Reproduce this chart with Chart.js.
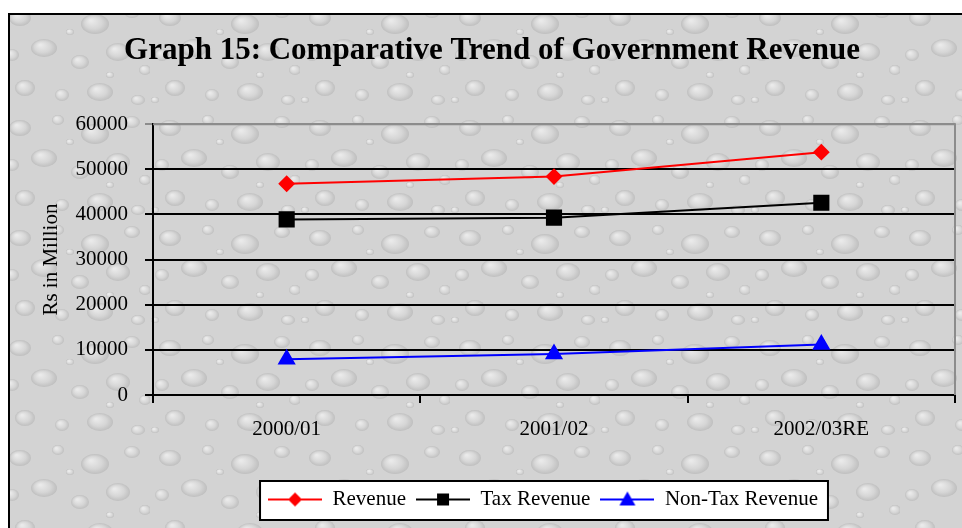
<!DOCTYPE html>
<html>
<head>
<meta charset="utf-8">
<script src="https://cdn.jsdelivr.net/npm/chart.js@4.4.1/dist/chart.umd.min.js"></script>
<style>
  html, body { margin: 0; padding: 0; background: #fff; }
  #wrap { width: 962px; height: 528px; position: relative; }
</style>
</head>
<body>
<div id="wrap"><canvas id="revenueChart"></canvas></div>
<script>
let years = ['2000/01', '2001/02', '2002/03RE'];
let revenue = [46800, 48400, 53800];
let taxRevenue = [38900, 39300, 42600];
let nonTaxRevenue = [7900, 9100, 11200];
let yTicks = [0, 10000, 20000, 30000, 40000, 50000, 60000];

let serif = '"Liberation Serif", "Times New Roman", serif';

// water-drop texture tile for the chart background
function makeTexture() {
    let tile = document.createElement('canvas');
    tile.width = 150;
    tile.height = 110;
    let c = tile.getContext('2d');
    c.fillStyle = '#d3d3d3';
    c.fillRect(0, 0, 150, 110);
    let drops = [
        [20, 18, 11, 8], [58, 10, 6, 5], [95, 24, 14, 10], [132, 12, 8, 6],
        [12, 55, 7, 6], [44, 48, 13, 9], [80, 62, 9, 7], [118, 52, 12, 9],
        [145, 70, 6, 5], [25, 88, 10, 8], [62, 95, 7, 6], [100, 92, 13, 9],
        [138, 100, 7, 5], [70, 32, 4, 3], [5, 100, 4, 3], [110, 75, 4, 3]
    ];
    drops.forEach(([x, y, rx, ry]) => {
        c.save();
        c.translate(x, y);
        c.scale(1, ry / rx);
        let g = c.createRadialGradient(-rx * 0.3, -rx * 0.35, 1, 0, 0, rx);
        g.addColorStop(0, '#eaeaea');
        g.addColorStop(0.6, '#d6d6d6');
        g.addColorStop(1, '#bfbfbf');
        c.fillStyle = g;
        c.beginPath();
        c.arc(0, 0, rx, 0, Math.PI * 2);
        c.fill();
        c.restore();
    });
    return tile;
}

// legend swatch: short line with the marker in the middle
function makeSwatch(color, style) {
    let cv = document.createElement('canvas');
    cv.width = 54;
    cv.height = 18;
    let c = cv.getContext('2d');
    c.strokeStyle = color;
    c.lineWidth = 2;
    c.beginPath();
    c.moveTo(0, 9);
    c.lineTo(54, 9);
    c.stroke();
    c.fillStyle = color;
    c.beginPath();
    if (style === 'diamond') {
        c.moveTo(27, 2); c.lineTo(34, 9); c.lineTo(27, 16); c.lineTo(20, 9);
    } else if (style === 'square') {
        c.rect(21, 3, 12, 12);
    } else {
        c.moveTo(27, 1); c.lineTo(35, 15); c.lineTo(19, 15);
    }
    c.closePath();
    c.fill();
    return cv;
}

let swatches = [
    makeSwatch('#ff0000', 'diamond'),
    makeSwatch('#000000', 'square'),
    makeSwatch('#0000ff', 'triangle')
];

let texture = makeTexture();

let backdrop = {
    id: 'backdrop',
    afterLayout(chart) {
        // legend sits right of centre
        chart.legend.left += 51;
        chart.legend.right += 51;
    },
    beforeDraw(chart) {
        let ctx = chart.ctx;
        ctx.save();
        ctx.fillStyle = ctx.createPattern(texture, 'repeat');
        ctx.fillRect(9, 14, chart.width - 9, chart.height - 14);
        ctx.strokeStyle = '#000';
        ctx.lineWidth = 2;
        ctx.beginPath();
        ctx.moveTo(9, chart.height);
        ctx.lineTo(9, 14);
        ctx.lineTo(chart.width, 14);
        ctx.stroke();

        // white boxed legend
        let boxes = chart.legend.legendHitBoxes;
        if (boxes && boxes.length) {
            let left = Math.min(...boxes.map(b => b.left)) - 8;
            let right = Math.max(...boxes.map(b => b.left + b.width)) + 10;
            let top = chart.legend.top + 2;
            let bottom = chart.legend.bottom;
            ctx.fillStyle = '#fff';
            ctx.fillRect(left, top, right - left, bottom - top);
            ctx.strokeStyle = '#000';
            ctx.lineWidth = 2;
            ctx.strokeRect(left, top, right - left, bottom - top);
        }
        ctx.restore();
    },
    beforeDatasetsDraw(chart) {
        let a = chart.chartArea;
        let ctx = chart.ctx;
        ctx.save();
        ctx.strokeStyle = '#8c8c8c';
        ctx.lineWidth = 2;
        ctx.beginPath();
        ctx.moveTo(a.left, a.top);
        ctx.lineTo(a.right, a.top);
        ctx.lineTo(a.right, a.bottom);
        ctx.stroke();
        ctx.restore();
    }
};

new Chart(document.getElementById('revenueChart'), {
    type: 'line',
    plugins: [backdrop],
    data: {
        labels: years,
        datasets: [
            {
                label: 'Revenue',
                data: revenue,
                borderColor: '#ff0000',
                backgroundColor: '#ff0000',
                borderWidth: 2,
                pointStyle: 'rectRot',
                pointRadius: 7,
                pointHoverRadius: 7
            },
            {
                label: 'Tax Revenue',
                data: taxRevenue,
                borderColor: '#000000',
                backgroundColor: '#000000',
                borderWidth: 2,
                pointStyle: 'rect',
                pointRadius: 10,
                pointHoverRadius: 10
            },
            {
                label: 'Non-Tax Revenue',
                data: nonTaxRevenue,
                borderColor: '#0000ff',
                backgroundColor: '#0000ff',
                borderWidth: 2,
                pointStyle: 'triangle',
                pointRadius: 8.5,
                pointHoverRadius: 8.5
            }
        ]
    },
    options: {
        responsive: true,
        maintainAspectRatio: false,
        animation: false,
        layout: { autoPadding: false, padding: { left: 29, right: 7, top: 0, bottom: 8 } },
        plugins: {
            tooltip: { enabled: false },
            title: {
                display: true,
                text: 'Graph 15: Comparative Trend of Government Revenue',
                color: '#000',
                font: { family: serif, size: 31, weight: 'bold' },
                padding: { top: 32, bottom: 55 }
            },
            legend: {
                position: 'bottom',
                labels: {
                    color: '#000',
                    font: { family: serif, size: 21 },
                    usePointStyle: true,
                    pointStyleWidth: 54,
                    padding: 10,
                    generateLabels(chart) {
                        let items = Chart.defaults.plugins.legend.labels.generateLabels(chart);
                        items.forEach((it, i) => { it.pointStyle = swatches[i]; });
                        return items;
                    }
                }
            }
        },
        scales: {
            x: {
                offset: true,
                afterFit(scale) {
                    scale.height = 84;
                    scale.paddingLeft = 0;
                    scale.paddingRight = 0;
                },
                grid: {
                    offset: true,
                    drawOnChartArea: false,
                    drawTicks: true,
                    tickLength: 8,
                    color: '#000',
                    lineWidth: 2
                },
                border: { color: '#000', width: 2 },
                ticks: {
                    color: '#000',
                    padding: 14,
                    maxRotation: 0,
                    font: { family: serif, size: 21 }
                }
            },
            y: {
                min: 0,
                max: 60000,
                afterFit(scale) { scale.width = 124; },
                afterBuildTicks(scale) { scale.ticks = yTicks.map(v => ({ value: v })); },
                grid: {
                    color: ctx => (ctx.tick && ctx.tick.value === 60000 ? '#8c8c8c' : '#000'),
                    lineWidth: 2,
                    tickLength: 8,
                    drawTicks: true
                },
                border: { color: '#000', width: 2 },
                ticks: {
                    color: '#000',
                    padding: 17,
                    font: { family: serif, size: 21 },
                    callback: v => String(v)
                },
                title: {
                    display: true,
                    text: 'Rs in Million',
                    color: '#000',
                    font: { family: serif, size: 21 },
                    padding: { top: 10, bottom: 0 }
                }
            }
        }
    }
});
</script>
</body>
</html>
